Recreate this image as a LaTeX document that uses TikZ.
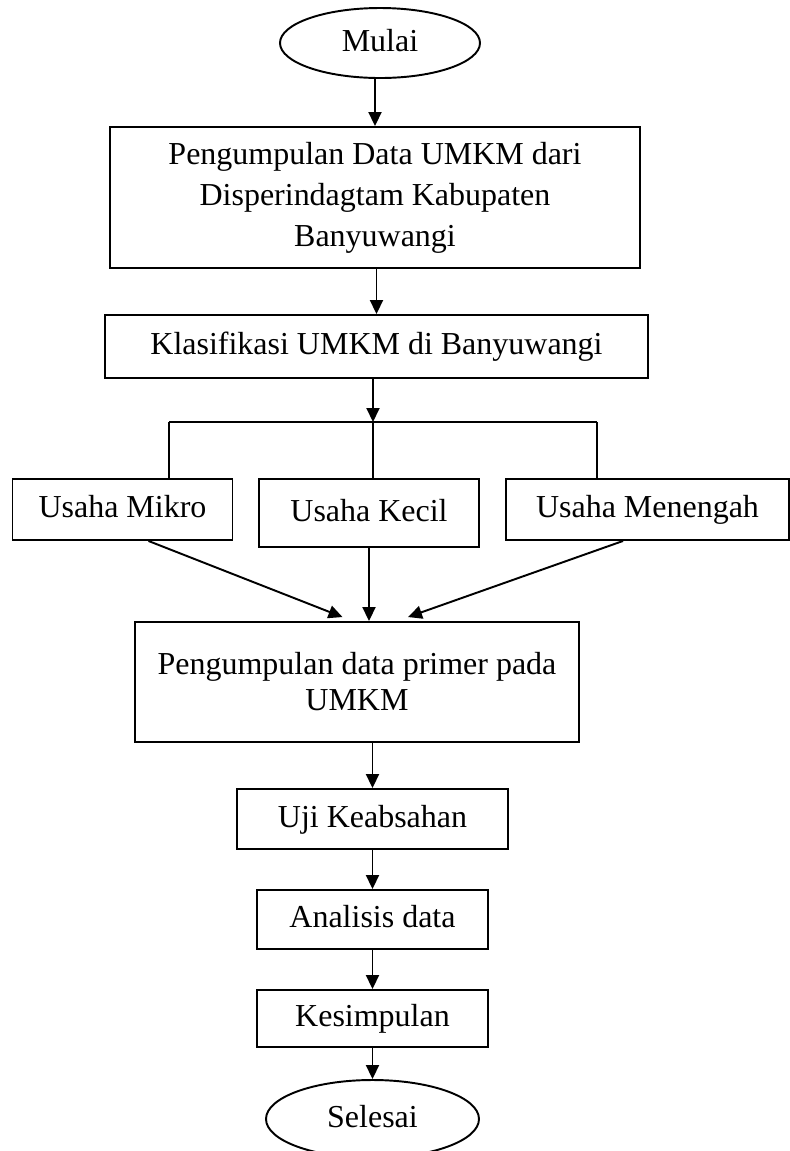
\documentclass[tikz,border=0pt]{standalone}
\usepackage{fontspec}
\setmainfont{Liberation Serif}
\usetikzlibrary{shapes.geometric, arrows.meta}

\begin{document}
\begin{tikzpicture}[
    kotak/.style={draw, line width=1.1pt, align=center, inner sep=0pt},
    tunggal/.style={text height=12.7pt, text depth=3.6pt},
    oval/.style={draw, ellipse, line width=1.1pt, inner sep=0pt, tunggal},
    panah/.style={-{Triangle[length=0.28cm, width=0.26cm]}, line width=1.1pt},
    garis/.style={line width=1.1pt},
    font=\fontsize{18.2}{23.3}\selectfont
]
    \useasboundingbox (0,0) rectangle (15.8,-23.02);

    \node[oval, minimum width=4cm, minimum height=1.4cm] (mulai) at (7.6,-0.86) {Mulai};

    \node[kotak, minimum width=10.6cm, minimum height=2.82cm] (kumpul) at (7.5,-3.95) {
        Pengumpulan Data UMKM dari\\
        Disperindagtam Kabupaten\\
        Banyuwangi
    };

    \node[kotak, tunggal, minimum width=10.86cm, minimum height=1.26cm] (klasifikasi) at (7.53,-6.93) {Klasifikasi UMKM di Banyuwangi};

    % cabang ke tiga jenis usaha
    \coordinate (cabang) at (7.46,-8.44);
    \coordinate (kiri) at (3.38,-8.44);
    \coordinate (kanan) at (11.94,-8.44);

    \node[kotak, tunggal, minimum width=4.4cm, minimum height=1.22cm] (mikro) at (2.45,-10.19) {Usaha Mikro};
    \node[kotak, tunggal, minimum width=4.39cm, minimum height=1.36cm] (kecil) at (7.38,-10.26) {Usaha Kecil};
    \node[kotak, tunggal, minimum width=5.66cm, minimum height=1.22cm] (menengah) at (12.95,-10.19) {Usaha Menengah};

    \node[kotak, minimum width=8.88cm, minimum height=2.4cm, font=\fontsize{18.2}{20.5}\selectfont] (primer) at (7.14,-13.64) {
        Pengumpulan data primer pada\\
        UMKM
    };

    \node[kotak, tunggal, minimum width=5.42cm, minimum height=1.2cm] (uji) at (7.45,-16.38) {Uji Keabsahan};
    \node[kotak, tunggal, minimum width=4.62cm, minimum height=1.18cm] (analisis) at (7.45,-18.39) {Analisis data};
    \node[kotak, tunggal, minimum width=4.62cm, minimum height=1.14cm] (simpul) at (7.45,-20.37) {Kesimpulan};

    \node[oval, minimum width=4.26cm, minimum height=1.56cm] (selesai) at (7.45,-22.38) {Selesai};

    % panah
    \draw[panah] (kumpul.north |- mulai.south) -- (kumpul.north);
    \draw[panah] (klasifikasi.north |- kumpul.south) -- (klasifikasi.north);
    \draw[panah] (cabang |- klasifikasi.south) -- (cabang);

    \draw[garis] (kiri) -- (kanan);
    \draw[garis] (kiri) -- (kiri |- mikro.north);
    \draw[garis] (cabang) -- (cabang |- kecil.north);
    \draw[garis] (kanan) -- (kanan |- menengah.north);

    \draw[panah] ([xshift=0.52cm]mikro.south) -- ([xshift=-0.29cm, yshift=0.08cm]primer.north);
    \draw[panah] (kecil.south) -- (kecil.south |- primer.north);
    \draw[panah] ([xshift=-0.49cm]menengah.south) -- ([xshift=1.02cm, yshift=0.08cm]primer.north);

    \draw[panah] (uji.north |- primer.south) -- (uji.north);
    \draw[panah] (uji.south) -- (analisis.north);
    \draw[panah] (analisis.south) -- (simpul.north);
    \draw[panah] (simpul.south) -- (selesai.north);
\end{tikzpicture}
\end{document}
